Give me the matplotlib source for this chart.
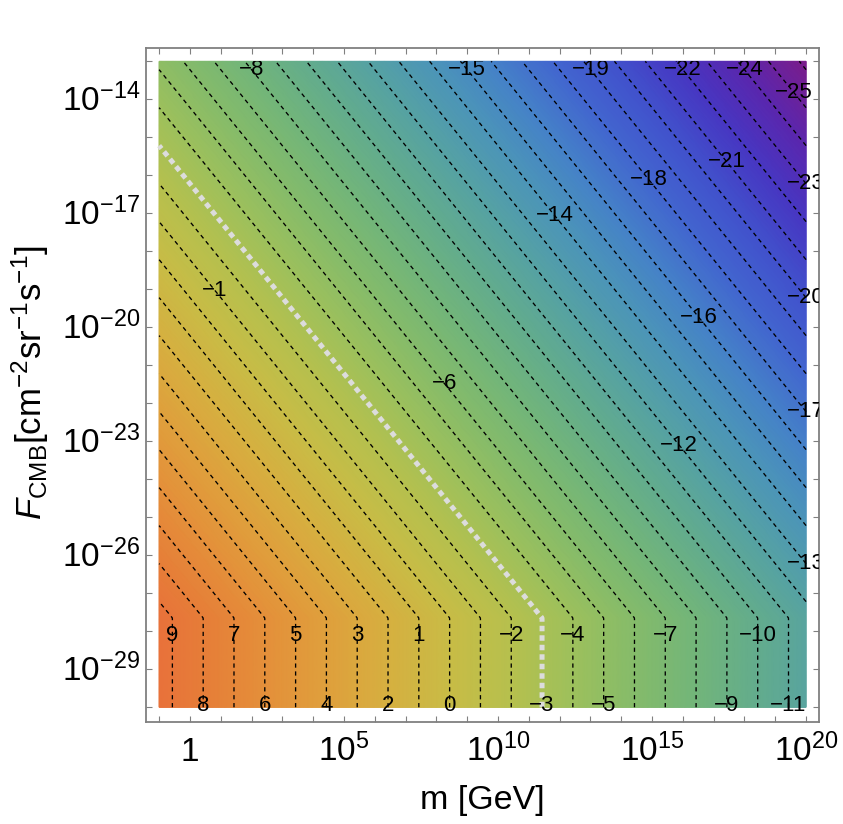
import numpy as np
import matplotlib
matplotlib.use('Agg')
import matplotlib.pyplot as plt
import matplotlib.transforms as mtransforms
from matplotlib.colors import LinearSegmentedColormap
from matplotlib.patches import Rectangle
from matplotlib.ticker import FixedLocator, FuncFormatter, NullLocator

plt.rcParams['font.family'] = ['Liberation Sans', 'DejaVu Sans']
plt.rcParams['mathtext.fontset'] = 'custom'
plt.rcParams['mathtext.rm'] = 'Liberation Sans'
plt.rcParams['mathtext.it'] = 'Liberation Sans:italic'
plt.rcParams['mathtext.bf'] = 'Liberation Sans:bold'

# plotted region and frame (log10 units)
LOG_M_RANGE = (-1.0, 20.0)
LOG_F_RANGE = (-30.0, -13.0)
X_FRAME_LOG = (-1.426, 20.42)
Y_FRAME_LOG = (-30.38, -12.65)

# contour field:
# upper part  f = UPPER_OFFSET - log m - log F
# lower part  f = LOWER_OFFSET - log m   (vertical lines)
UPPER_OFFSET = -19.22
LOWER_OFFSET = 8.43

CONTOUR_LEVELS = list(range(-26, 10))
HIGHLIGHT_LEVEL = -3

# colour of the shading against field value
COLOR_VALUES = [-26.2, -24, -22, -20, -18, -16, -14, -12, -10, -8, -6, -4, -2, 0, 2, 4, 6, 8, 9.45]
COLOR_HEX = ['#7a1d8c', '#5a27ae', '#4737c2', '#4152cc', '#4266cf', '#4582c8', '#4c95b8',
             '#56a2a3', '#63ac8d', '#72b57a', '#85bb6a', '#9dc05c', '#b6c04e', '#c8bc46',
             '#d6b040', '#dfa03c', '#e4903a', '#e67e38', '#e8723a']

# contour labels
TOP_LABELS = [-8, -15, -19, -22, -24]
TOP_LABEL_LOGF = -13.22
INNER_LABELS = [-25, -21, -18, -14, -23, -1, -20, -16, -6, -17, -12, -13]
INNER_LABEL_LOGM = [19.6, 17.42, 14.9, 11.83, 20.0, 0.81, 20.0, 16.53, 8.26, 20.0, 15.88, 20.0]
BOTTOM_ROW_A = [9, 7, 5, 3, 1, -2, -4, -7, -10]
BOTTOM_ROW_B = [8, 6, 4, 2, 0, -3, -5, -9, -11]
ROW_A_LOGF = -28.1
ROW_B_LOGF = -29.96

X_TICK_EXP = list(range(-1, 21))
X_LABEL_EXP = [0, 5, 10, 15, 20]
Y_TICK_EXP = list(range(-30, -12))
Y_LABEL_EXP = [-29, -26, -23, -20, -17, -14]


def field(lm, lf):
    return np.minimum(UPPER_OFFSET - lm - lf, LOWER_OFFSET - lm)


def level_text(v):
    return f'{v:.0f}'.replace('-', '\u2212')


lm = np.linspace(LOG_M_RANGE[0], LOG_M_RANGE[1], 700)
lf = np.linspace(LOG_F_RANGE[0], LOG_F_RANGE[1], 600)
LM, LF = np.meshgrid(lm, lf)
Z = field(LM, LF)
M, F = 10.0 ** LM, 10.0 ** LF

vmin, vmax = COLOR_VALUES[0], COLOR_VALUES[-1]
pos = [(v - vmin) / (vmax - vmin) for v in COLOR_VALUES]
cmap = LinearSegmentedColormap.from_list('shade', list(zip(pos, COLOR_HEX)))

fig = plt.figure(figsize=(8.43, 8.24), dpi=100)
ax = fig.add_axes([146 / 843, 1 - 721.7 / 824, 673 / 843, 673.7 / 824])
ax.set_xscale('log')
ax.set_yscale('log')

ax.pcolormesh(M, F, Z, cmap=cmap, vmin=vmin, vmax=vmax, shading='gouraud', rasterized=True)

black_levels = [l for l in CONTOUR_LEVELS if l != HIGHLIGHT_LEVEL]
ax.contour(M, F, Z, levels=black_levels, colors='black', linewidths=0.95,
           linestyles=[(0, (3.2, 2.8))])
ax.contour(M, F, Z, levels=[HIGHLIGHT_LEVEL], colors='#dcdcdc', linewidths=3.6,
           linestyles=[(0, (1.1, 0.8))])

ax.set_xlim(10.0 ** X_FRAME_LOG[0], 10.0 ** X_FRAME_LOG[1])
ax.set_ylim(10.0 ** Y_FRAME_LOG[0], 10.0 ** Y_FRAME_LOG[1])

# labels are clipped at the top of the shaded area and at the frame elsewhere
top_frac = (LOG_F_RANGE[1] - Y_FRAME_LOG[0]) / (Y_FRAME_LOG[1] - Y_FRAME_LOG[0])
clip = Rectangle((0, 0), 1, top_frac, transform=ax.transAxes)

labels = []
for L in TOP_LABELS:
    labels.append((L, UPPER_OFFSET - L - TOP_LABEL_LOGF, TOP_LABEL_LOGF))
for L, x in zip(INNER_LABELS, INNER_LABEL_LOGM):
    labels.append((L, x, UPPER_OFFSET - x - L))
for L in BOTTOM_ROW_A:
    labels.append((L, LOWER_OFFSET - L, ROW_A_LOGF))
for L in BOTTOM_ROW_B:
    labels.append((L, LOWER_OFFSET - L, ROW_B_LOGF))

for L, x, y in labels:
    t = ax.text(10.0 ** x, 10.0 ** y, level_text(L), fontsize=16, ha='center',
                va='center', color='black', zorder=5, clip_on=True)
    t.set_clip_path(clip)

# frame and ticks
for s in ax.spines.values():
    s.set_color('#808080')
    s.set_linewidth(1.3)

ax.xaxis.set_major_locator(FixedLocator(10.0 ** np.array(X_TICK_EXP, dtype=float)))
ax.yaxis.set_major_locator(FixedLocator(10.0 ** np.array(Y_TICK_EXP, dtype=float)))
ax.xaxis.set_minor_locator(NullLocator())
ax.yaxis.set_minor_locator(NullLocator())


def xfmt(v, p):
    e = int(round(np.log10(v)))
    if e not in X_LABEL_EXP:
        return ''
    return '$1$' if e == 0 else f'$10^{{{e}}}$'


def yfmt(v, p):
    e = int(round(np.log10(v)))
    return f'$10^{{{e}}}$' if e in Y_LABEL_EXP else ''


ax.xaxis.set_major_formatter(FuncFormatter(xfmt))
ax.yaxis.set_major_formatter(FuncFormatter(yfmt))
ax.tick_params(which='both', direction='in', length=4.5, width=0.8, color='#808080',
               top=True, right=True, labelsize=24)
ax.tick_params(axis='x', pad=28.3)
ax.tick_params(axis='y', pad=4.3)

for lab in ax.get_xticklabels():
    lab.set_va('baseline')
shift = mtransforms.ScaledTranslation(0, -0.12, fig.dpi_scale_trans)
for lab in ax.get_yticklabels():
    lab.set_va('baseline')
    lab.set_transform(lab.get_transform() + shift)

fig.text(482.5 / 843, 1 - 801 / 824, 'm [GeV]', ha='center', va='center', fontsize=24.5)
fig.text(30 / 843, 1 - 383 / 824,
         r'$F_{\mathrm{CMB}}$[cm$^{-2}$sr$^{-1}$s$^{-1}$]',
         rotation=90, ha='center', va='center', fontsize=25)

fig.savefig('out.png', dpi=100)
